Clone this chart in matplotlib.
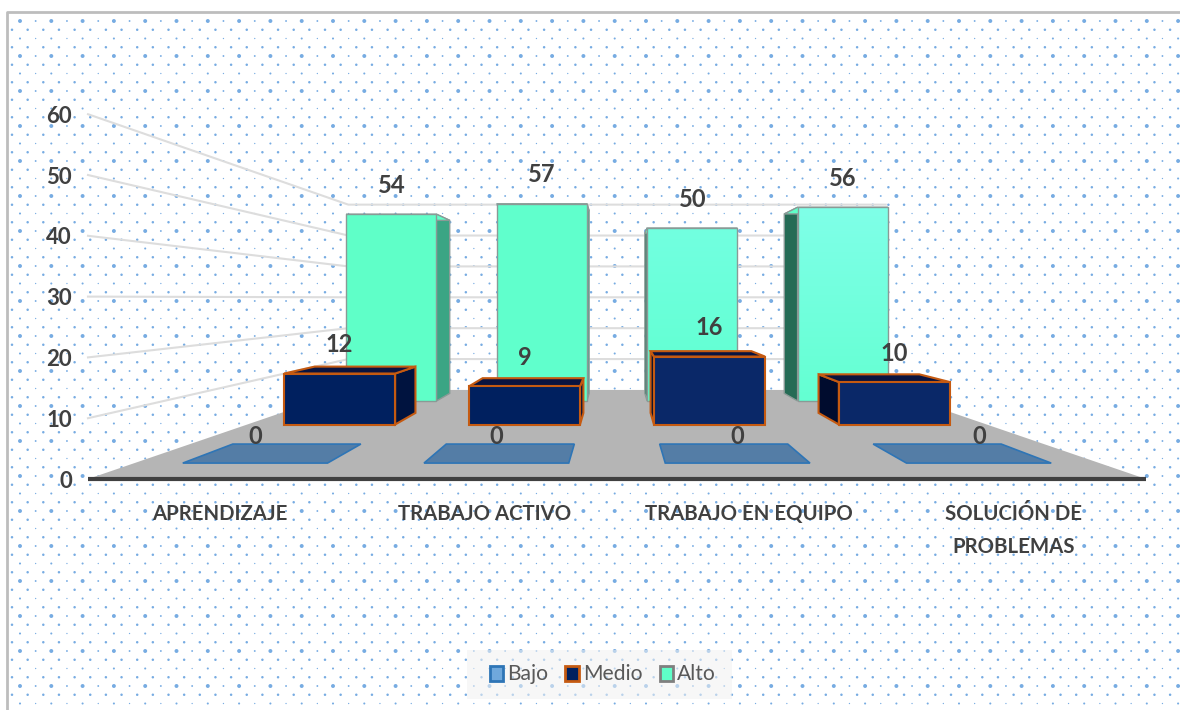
import numpy as np
import matplotlib
matplotlib.use('Agg')
import matplotlib.pyplot as plt
from matplotlib.patches import Patch, Polygon, Rectangle

plt.rcParams['font.family'] = ['Lato', 'DejaVu Sans']

categories = ['APRENDIZAJE', 'TRABAJO ACTIVO', 'TRABAJO EN EQUIPO', 'SOLUCIÓN DE\nPROBLEMAS']
bajo = [0, 0, 0, 0]
medio = [12, 9, 16, 10]
alto = [54, 57, 50, 56]
y_ticks = [0, 10, 20, 30, 40, 50, 60]

# perspective of the 3d chart, measured in pixels
VP_X, VP_Y = 617, 298
HALF_W = 529
FLOOR_H = 181
UNIT = 6.08
S_BACK = 0.508


def proj(x, s, v=0):
    # x runs -1..1 across the floor, s is depth scale (1 = front edge)
    return VP_X + x * HALF_W * s, VP_Y + (FLOOR_H - v * UNIT) * s


def face(pts, color, edge, lw=1.2, z=3):
    ax.add_patch(Polygon([proj(*p) for p in pts], closed=True, fc=color, ec=edge,
                         lw=lw, zorder=z, joinstyle='miter'))


def draw_bars(values, s_front, s_back, front_cols, side_r, side_l, top, edge, z, lw=1.2, label_dy=29):
    for i, v in enumerate(values):
        c = -0.75 + i * 0.5
        x0, x1 = c - 0.15, c + 0.15
        if v > 0:
            if x1 < 0:
                face([(x1, s_front, 0), (x1, s_back, 0), (x1, s_back, v), (x1, s_front, v)],
                     side_r, edge, lw, z)
            if x0 > 0:
                face([(x0, s_front, 0), (x0, s_back, 0), (x0, s_back, v), (x0, s_front, v)],
                     side_l, edge, lw, z)
        face([(x0, s_front, v), (x1, s_front, v), (x1, s_back, v), (x0, s_back, v)],
             top, edge, lw, z + 0.1)
        if v > 0:
            col = front_cols[i]
            pts = [proj(x0, s_front, 0), proj(x1, s_front, 0), proj(x1, s_front, v), proj(x0, s_front, v)]
            poly = Polygon(pts, closed=True, fc=col[0], ec=edge, lw=lw, zorder=z + 0.2, joinstyle='miter')
            ax.add_patch(poly)
            if col[0] != col[1]:
                grad = matplotlib.colors.LinearSegmentedColormap.from_list('g', col)
                im = ax.imshow(np.linspace(0, 1, 64)[:, None], cmap=grad, aspect='auto',
                               extent=(pts[0][0], pts[1][0], pts[0][1], pts[2][1]),
                               zorder=z + 0.15)
                im.set_clip_path(poly)
                poly.set_facecolor('none')
        lx, ly = proj(c, s_front, v)
        ax.text(lx, ly - label_dy, str(v), ha='center', va='center', fontsize=17,
                color='#404040', zorder=8, fontweight='bold')


fig = plt.figure(figsize=(11.8, 7.1), dpi=100)
ax = fig.add_axes([0, 0, 1, 1])

# dotted background
xs = np.arange(12, 1185, 15.65)
rows = np.arange(21, 712, 8.75)
for r, yy in enumerate(rows):
    kind = r % 4
    if kind == 0:
        px = xs + 8
        size = np.where(np.arange(len(px)) % 2 == 0, 8, 1.8)
    elif kind == 2:
        px = xs + 8
        size = np.where(np.arange(len(px)) % 2 == 0, 2.2, 0.9)
    else:
        px = xs
        size = np.full(len(px), 3.2)
    ax.scatter(px, np.full(len(px), yy), s=size, c='#4A90D9', alpha=0.75, lw=0, zorder=1)

# frame
ax.plot([7, 7, 1180], [710, 12, 12], color='#BDBDBD', lw=2, zorder=2)

# grid on the walls
for v in y_ticks[1:]:
    xb0, yb = proj(-1, S_BACK, v)
    xb1, _ = proj(1, S_BACK, v)
    xf, yf = proj(-1, 1, v)
    ax.plot([xf, xb0, xb1], [yf, yb, yb], color='#DDDDDD', lw=1.5, zorder=2)

# floor and axis line
face([(-1, 1), (1, 1), (1, S_BACK), (-1, S_BACK)], '#B5B5B5', 'none', 0, 2.5)
ax.plot([proj(-1, 1)[0], proj(1, 1)[0]], [proj(0, 1)[1]] * 2, color='#404040', lw=3, zorder=7,
        solid_capstyle='butt')

# back to front
alto_cols = [('#5FFFC8', '#5FFFC8'), ('#60FFCC', '#60FFCC'), ('#72FFE0', '#5FFFD0'), ('#7FFFE8', '#64FFD2')]
draw_bars(alto, 0.569, 0.527, alto_cols, '#3BA584', '#256B55', '#5FFFC8', '#8A9A96', 3, lw=1.0)
medio_cols = [('#00205F', '#00205F'), ('#00205F', '#00205F'), ('#0A2868', '#0A2868'), ('#0A2868', '#0A2868')]
draw_bars(medio, 0.699, 0.635, medio_cols, '#00133F', '#000C2E', '#0A1440', '#C55A11', 4, lw=1.5)
draw_bars(bajo, 0.912, 0.807, [None] * 4, '#547DA6', '#547DA6', '#547DA6', '#2E75B6', 5, label_dy=27)

# tick labels
for v in y_ticks:
    ax.text(72, proj(-1, 1, v)[1] + 2, str(v), ha='right', va='center', fontsize=16,
            color='#404040', fontweight='bold', zorder=8)
for i, name in enumerate(categories):
    ax.text(proj(-0.75 + i * 0.5, 1)[0], 504, name, ha='center', va='top', fontsize=14.7,
            color='#404040', fontweight='bold', linespacing=1.8, zorder=8)

# legend box is a bit flatter than the legend's own padding allows
ax.add_patch(Rectangle((467, 650), 265, 49, fc='#F2F2F2', ec='none', alpha=0.55, zorder=8.5))
handles = [Patch(fc='#6FA8DC', ec='#2E75B6', lw=2, label='Bajo'),
           Patch(fc='#00205F', ec='#C55A11', lw=2, label='Medio'),
           Patch(fc='#5FFFC8', ec='#7F7F7F', lw=2, label='Alto')]
leg = ax.legend(handles=handles, ncol=3, loc='center', bbox_to_anchor=(603 / 1180, 1 - 674.5 / 710),
                frameon=False, fontsize=15.2, labelcolor='#595959', handlelength=0.62, handleheight=0.7,
                handletextpad=0.22, columnspacing=0.8, borderpad=0.3)
leg.set_zorder(9)

ax.set_xlim(0, 1180)
ax.set_ylim(710, 0)
ax.axis('off')

fig.savefig('out.png', dpi=100, facecolor='white')
